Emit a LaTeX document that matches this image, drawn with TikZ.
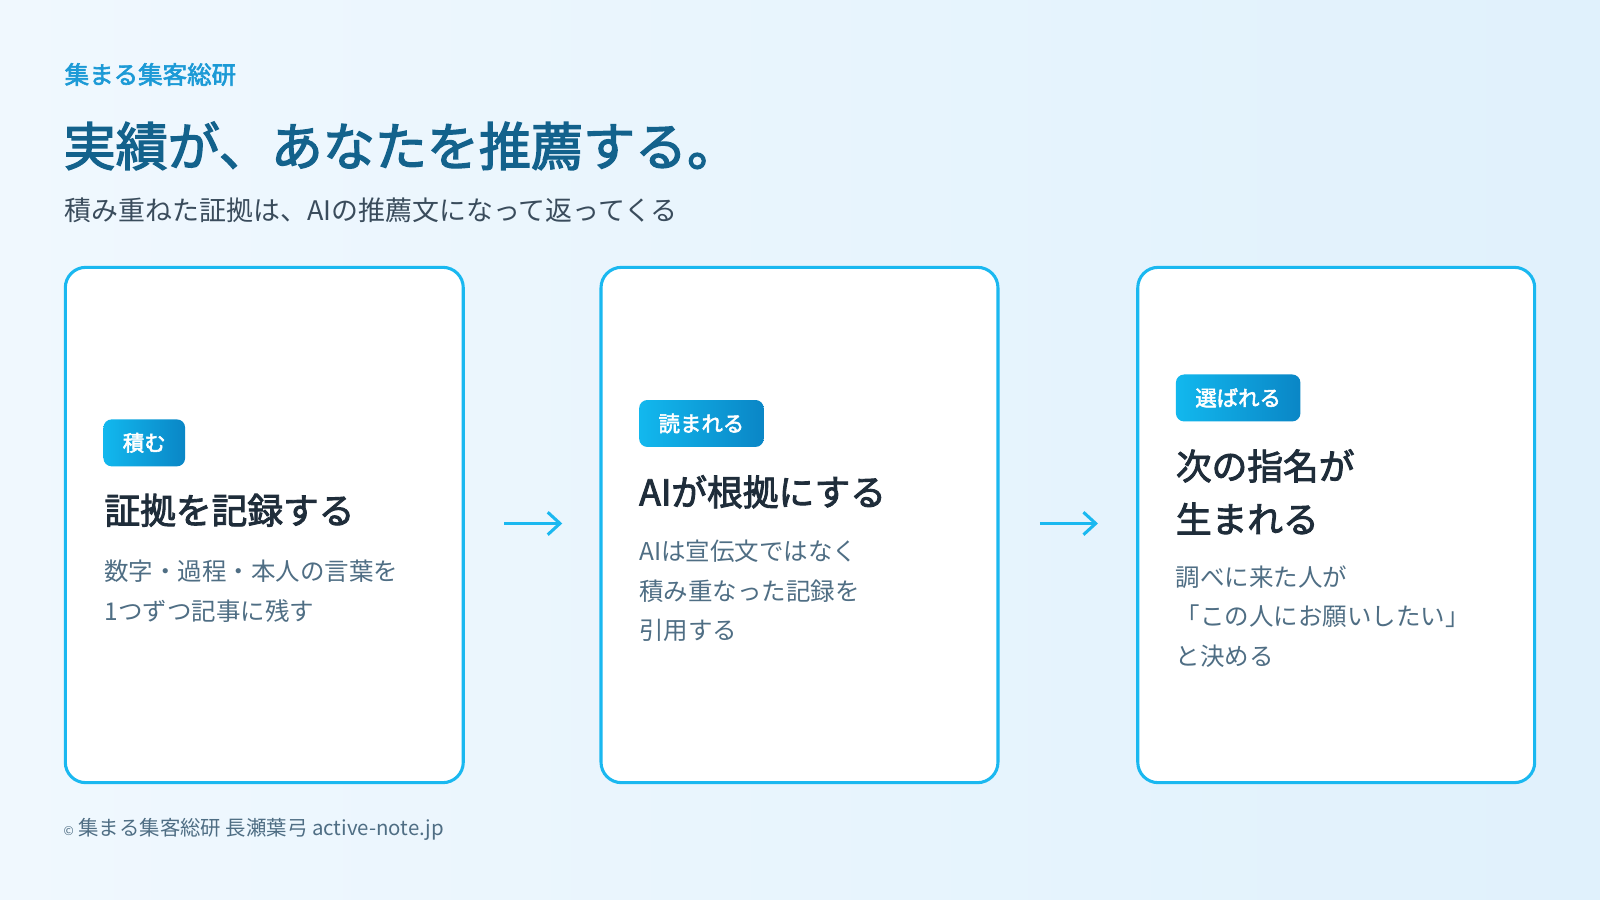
\documentclass[tikz,border=0pt]{standalone}
\usepackage{fontspec}
\setmainfont{Noto Sans CJK JP}
\newfontfamily\jpb{Noto Sans CJK JP}[FakeBold=2.5]
\definecolor{bgA}{HTML}{F0F8FE}
\definecolor{bgB}{HTML}{E0F1FC}
\definecolor{cardline}{HTML}{1AB8F0}
\definecolor{badgeA}{HTML}{12B8EE}
\definecolor{badgeB}{HTML}{0A86C6}
\definecolor{titlec}{HTML}{13628C}
\definecolor{brandc}{HTML}{1C9AD6}
\definecolor{subc}{HTML}{3A4C5C}
\definecolor{headc}{HTML}{1F2D3A}
\definecolor{bodyc}{HTML}{4F6E84}
\begin{document}
\begin{tikzpicture}[x=0.5pt,y=-0.5pt,
  txt/.style={inner xsep=0pt},
  card/.style={draw=cardline,line width=1.5pt,fill=white,rounded corners=10pt},
  badge/.style={rounded corners=4pt,left color=badgeA,right color=badgeB,text=white,font=\fontsize{10.5}{12}\jpb,inner xsep=9.5pt,minimum height=23pt,anchor=west},
  head/.style={txt,anchor=west,text=headc,font=\fontsize{17.5}{26}\jpb,align=left},
  body/.style={txt,anchor=north west,text=bodyc,font=\fontsize{12}{19.4}\selectfont,align=left},
  arr/.style={draw=cardline,line width=1.5pt,-{Straight Barb[length=6pt,width=11pt]}}]
\usetikzlibrary{arrows.meta}
\shade[left color=bgA,right color=bgB] (0,0) rectangle (1568,882);
\useasboundingbox (0,0) rectangle (1568,882);
\node[txt,anchor=west,text=brandc,font=\fontsize{12}{14}\jpb] (brand) at (63,73) {集まる集客総研};
\node[txt,anchor=west,text=titlec,font=\fontsize{25.5}{30}\jpb] (title) at (62,143) {実績が、あなたを推薦する。};
\node[txt,anchor=west,text=subc,font=\fontsize{13.2}{16}\selectfont] (sub) at (63,206) {積み重ねた証拠は、AIの推薦文になって返ってくる};
\draw[card] (64,262) rectangle (454,767);
\draw[card] (589,262) rectangle (978,767);
\draw[card] (1115,262) rectangle (1504,767);
\coordinate (a1) at (494,513); \coordinate (b1) at (551,513);
\coordinate (a2) at (1019,513); \coordinate (b2) at (1076,513);
\draw[arr] (a1) -- (b1);
\draw[arr] (a2) -- (b2);
\node[badge] (k1) at (101,434) {積む};
\node[head] (h1) at (102,500) {証拠を記録する};
\node[body] (t1) at (102,542) {数字・過程・本人の言葉を\\1つずつ記事に残す};
\node[badge] (k2) at (626,415) {読まれる};
\node[head] (h2) at (626,482) {AIが根拠にする};
\node[body] (t2) at (626,522) {AIは宣伝文ではなく\\積み重なった記録を\\引用する};
\node[badge] (k3) at (1152,390) {選ばれる};
\node[head] (h3) at (1152,482) {次の指名が\\生まれる};
\node[body] (t3) at (1152,547) {調べに来た人が\\「この人にお願いしたい」\\と決める};
\node[txt,anchor=west,text=bodyc,font=\fontsize{10}{11}\selectfont] (foot) at (62,813) {{\fontsize{6}{7}\selectfont ©} 集まる集客総研 長瀬葉弓 active-note.jp};
\end{tikzpicture}
\end{document}
